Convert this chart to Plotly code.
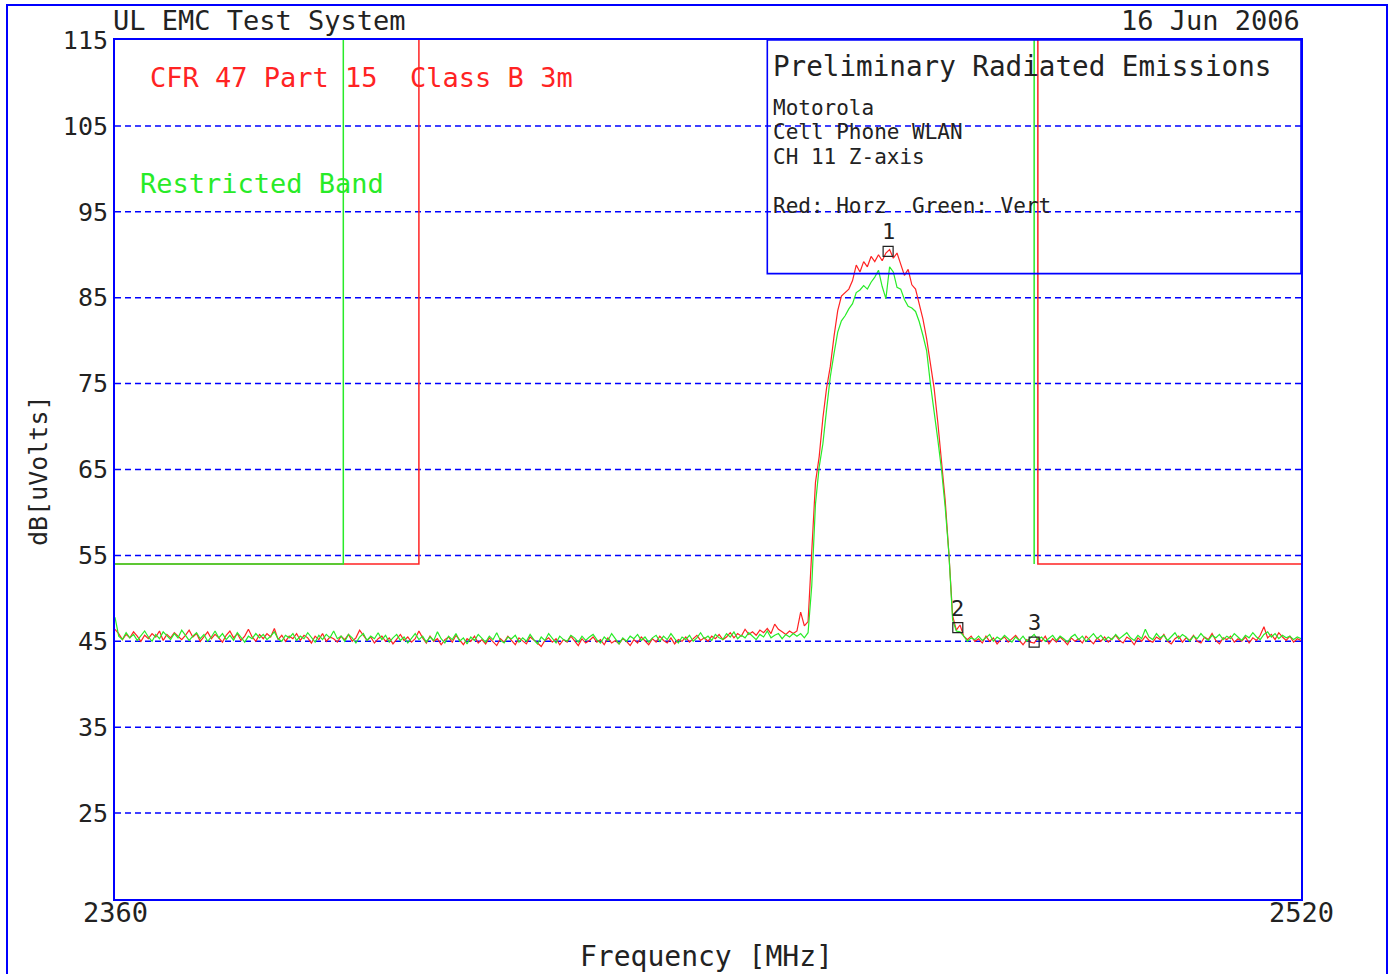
import plotly.graph_objects as go

# ---------------- data ----------------
freq_low = [2360.0, 2360.5, 2361.0, 2361.5, 2362.0, 2362.5, 2363.0, 2363.5, 2364.0, 2364.5,
            2365.0, 2365.5, 2366.0, 2366.5, 2367.0, 2367.5, 2368.0, 2368.5, 2369.0, 2369.5,
            2370.0, 2370.5, 2371.0, 2371.5, 2372.0, 2372.5, 2373.0, 2373.5, 2374.0, 2374.5,
            2375.0, 2375.5, 2376.0, 2376.5, 2377.0, 2377.5, 2378.0, 2378.5, 2379.0, 2379.5,
            2380.0, 2380.5, 2381.0, 2381.5, 2382.0, 2382.5, 2383.0, 2383.5, 2384.0, 2384.5,
            2385.0, 2385.5, 2386.0, 2386.5, 2387.0, 2387.5, 2388.0, 2388.5, 2389.0, 2389.5,
            2390.0, 2390.5, 2391.0, 2391.5, 2392.0, 2392.5, 2393.0, 2393.5, 2394.0, 2394.5,
            2395.0, 2395.5, 2396.0, 2396.5, 2397.0, 2397.5, 2398.0, 2398.5, 2399.0, 2399.5,
            2400.0, 2400.5, 2401.0, 2401.5, 2402.0, 2402.5, 2403.0, 2403.5, 2404.0, 2404.5,
            2405.0, 2405.5, 2406.0, 2406.5, 2407.0, 2407.5, 2408.0, 2408.5, 2409.0, 2409.5,
            2410.0, 2410.5, 2411.0, 2411.5, 2412.0, 2412.5, 2413.0, 2413.5, 2414.0, 2414.5,
            2415.0, 2415.5, 2416.0, 2416.5, 2417.0, 2417.5, 2418.0, 2418.5, 2419.0, 2419.5,
            2420.0, 2420.5, 2421.0, 2421.5, 2422.0, 2422.5, 2423.0, 2423.5, 2424.0, 2424.5,
            2425.0, 2425.5, 2426.0, 2426.5, 2427.0, 2427.5, 2428.0, 2428.5, 2429.0, 2429.5,
            2430.0, 2430.5, 2431.0, 2431.5, 2432.0, 2432.5, 2433.0, 2433.5, 2434.0, 2434.5,
            2435.0, 2435.5, 2436.0, 2436.5, 2437.0, 2437.5, 2438.0, 2438.5, 2439.0, 2439.5,
            2440.0, 2440.5, 2441.0, 2441.5, 2442.0, 2442.5, 2443.0, 2443.5, 2444.0, 2444.5,
            2445.0, 2445.5, 2446.0, 2446.5, 2447.0, 2447.5, 2448.0, 2448.5, 2449.0, 2449.5,
            2450.0, 2450.5, 2451.0, 2451.5]
red_low = [46.4, 45.9, 45.2, 45.8, 45.4, 46.1, 45.6, 45.0, 45.7, 45.3,
           45.9, 45.5, 46.2, 45.1, 45.8, 45.4, 46.0, 45.6, 45.2, 45.7,
           46.3, 45.5, 45.9, 45.0, 45.6, 46.1, 45.3, 45.8, 45.4, 44.9,
           45.7, 46.2, 45.4, 45.9, 45.1, 45.6, 46.4, 45.5, 45.0, 45.8,
           45.3, 45.9, 45.5, 46.5, 45.2, 45.7, 45.0, 45.6, 45.3, 45.9,
           45.1, 45.7, 45.4, 44.8, 45.6, 45.2, 45.9, 45.0, 45.5, 45.3,
           44.9, 45.6, 45.2, 45.8, 45.0, 45.4, 46.3, 45.7, 45.1, 45.5,
           44.8, 45.3, 45.6, 45.0, 45.4, 44.7, 45.2, 45.8, 45.1, 45.5,
           44.9, 45.3, 46.2, 45.4, 44.8, 45.6, 45.0, 45.3, 44.6, 45.2,
           45.5, 44.9, 45.7, 45.1, 44.6, 45.3, 45.0, 45.6, 44.8, 45.2,
           44.7, 45.4, 45.0, 44.5, 45.3, 44.9, 45.6, 45.1, 44.6, 45.4,
           45.0, 44.7, 45.5, 45.2, 44.8, 44.4, 45.1, 45.4, 44.9, 45.3,
           44.6, 45.2, 44.9, 45.6, 45.0, 44.5, 45.3, 44.8, 45.1, 45.5,
           44.9, 45.2, 44.6, 45.4, 44.8, 45.1, 44.7, 45.3, 45.0, 44.5,
           45.2, 44.8, 45.5, 45.0, 44.6, 45.3, 44.9, 45.6, 45.1, 44.8,
           45.4, 44.7, 45.2, 45.0, 45.5, 44.9, 45.3, 45.7, 45.1, 45.4,
           45.0, 45.6, 45.3, 45.8, 45.2, 45.5, 46.0, 45.4, 45.9, 45.6,
           46.4, 45.8, 46.1, 45.7, 46.3, 46.0, 46.5, 45.9, 47.0, 46.4,
           46.1, 45.8, 46.2, 45.9]
green_low = [47.8, 45.6, 45.2, 46.0, 45.4, 45.8, 45.1, 45.7, 46.2, 45.5,
             45.0, 45.8, 45.3, 46.1, 45.6, 45.2, 45.9, 45.4, 46.3, 45.7,
             45.1, 45.6, 46.0, 45.3, 45.8, 45.0, 45.5, 46.2, 45.4, 45.9,
             45.2, 45.7, 45.1, 46.0, 45.5, 44.9, 45.6, 45.3, 45.9, 45.4,
             45.8, 45.2, 45.6, 46.1, 45.3, 45.0, 45.7, 45.4, 45.9, 45.1,
             45.6, 45.3, 46.0, 45.5, 44.9, 45.7, 45.2, 45.8, 45.4, 46.2,
             45.3, 45.6, 45.0, 45.8, 45.4, 44.8, 45.5, 45.9, 45.1, 45.6,
             45.3, 46.0, 45.2, 45.7, 44.9, 45.4, 45.8, 45.1, 45.5, 44.8,
             45.4, 45.9, 45.2, 45.6, 44.9, 45.5, 45.1, 46.1, 45.3, 44.8,
             45.6, 45.2, 45.9, 45.0, 45.4, 44.7, 45.5, 45.1, 45.8, 45.3,
             44.9, 45.6, 45.2, 46.0, 45.1, 44.8, 45.5, 45.3, 45.7, 44.9,
             45.4, 45.0, 45.8, 45.2, 44.7, 45.5, 45.1, 45.9, 45.3, 44.8,
             45.6, 45.2, 45.0, 45.7, 45.4, 44.9, 45.6, 45.1, 45.5, 45.8,
             45.2, 44.8, 45.5, 45.1, 45.9, 45.3, 44.7, 45.4, 45.0, 45.6,
             45.3, 45.8, 45.1, 45.5, 44.9, 45.4, 45.7, 45.0, 45.6, 45.2,
             45.9, 45.3, 44.8, 45.5, 45.2, 45.7, 45.0, 45.4, 46.0, 45.3,
             45.6, 45.1, 45.8, 45.4, 45.2, 45.9, 45.5, 46.1, 45.3, 45.7,
             45.4, 46.0, 45.6, 45.2, 45.8, 45.5, 46.2, 45.4, 45.7, 45.9,
             45.3, 45.8, 45.5, 45.9]

freq_peak = [2452.0, 2452.5, 2453.0, 2453.5, 2454.0, 2454.5, 2455.0, 2455.5,
             2456.0, 2456.5, 2457.0, 2457.5, 2458.0, 2458.5, 2459.0, 2459.5,
             2460.0, 2460.5, 2461.0, 2461.5, 2462.0, 2462.5, 2463.0, 2463.5,
             2464.0, 2464.5, 2465.0, 2465.5, 2466.0, 2466.5, 2467.0, 2467.5,
             2468.0, 2468.5, 2469.0, 2469.5, 2470.0, 2470.5, 2471.0, 2471.5,
             2472.0, 2472.5, 2473.0, 2473.5, 2474.0, 2474.5, 2475.0, 2475.5,
             2476.0]
red_peak = [46.2, 48.4, 46.8, 47.3, 55.5, 63.5, 66.5, 71.0,
            74.5, 77.0, 80.5, 83.5, 85.2, 85.6, 86.0, 87.0,
            88.8, 88.0, 89.2, 88.6, 89.8, 89.2, 90.0, 89.3,
            90.2, 90.6, 89.6, 90.2, 88.9, 87.6, 88.3, 86.5,
            86.0, 84.2, 82.5, 80.2, 77.3, 74.5, 70.5, 65.5,
            61.4, 55.2, 48.0, 46.3, 46.9, 45.6, 45.2, 45.6,
            45.0]
green_peak = [45.6, 45.9, 45.4, 46.0, 51.5, 61.0, 65.3, 68.0,
              72.0, 75.8, 78.5, 81.0, 82.3, 82.9, 83.7, 84.3,
              85.6, 85.9, 86.4, 86.0, 86.8, 87.4, 88.2, 86.3,
              84.9, 88.6, 88.0, 86.2, 86.0, 84.8, 84.0, 83.8,
              83.4, 82.2, 80.6, 78.8, 75.0, 72.0, 68.5, 65.0,
              60.6, 55.2, 47.5, 46.2, 46.1, 45.6, 45.0, 45.4,
              45.2]

freq_high = [2476.5, 2477.0, 2477.5, 2478.0, 2478.5, 2479.0, 2479.5,
             2480.0, 2480.5, 2481.0, 2481.5, 2482.0, 2482.5, 2483.0, 2483.5, 2484.0, 2484.5,
             2485.0, 2485.5, 2486.0, 2486.5, 2487.0, 2487.5, 2488.0, 2488.5, 2489.0, 2489.5,
             2490.0, 2490.5, 2491.0, 2491.5, 2492.0, 2492.5, 2493.0, 2493.5, 2494.0, 2494.5,
             2495.0, 2495.5, 2496.0, 2496.5, 2497.0, 2497.5, 2498.0, 2498.5, 2499.0, 2499.5,
             2500.0, 2500.5, 2501.0, 2501.5, 2502.0, 2502.5, 2503.0, 2503.5, 2504.0, 2504.5,
             2505.0, 2505.5, 2506.0, 2506.5, 2507.0, 2507.5, 2508.0, 2508.5, 2509.0, 2509.5,
             2510.0, 2510.5, 2511.0, 2511.5, 2512.0, 2512.5, 2513.0, 2513.5, 2514.0, 2514.5,
             2515.0, 2515.5, 2516.0, 2516.5, 2517.0, 2517.5, 2518.0, 2518.5, 2519.0, 2519.5,
             2520.0]
red_high = [45.3, 44.8, 45.6, 45.0, 45.4, 44.7, 45.2,
            45.5, 44.9, 45.3, 45.7, 45.1, 44.6, 45.2, 44.9, 44.8, 45.4,
            45.0, 45.6, 44.7, 45.3, 44.9, 45.5, 45.1, 44.6, 45.4, 45.0,
            45.3, 44.8, 45.6, 45.2, 44.7, 45.4, 45.0, 45.5, 44.9, 45.3,
            45.7, 45.1, 44.8, 45.5, 45.2, 44.6, 45.4, 45.0, 45.6, 45.1,
            44.9, 45.5, 45.2, 45.8, 45.0, 44.7, 45.3, 45.6, 44.9, 45.4,
            45.1, 45.7, 45.0, 44.8, 45.5, 45.2, 45.9, 45.1, 44.7, 45.4,
            45.2, 45.6, 44.9, 45.3, 45.0, 45.5, 44.8, 45.4, 45.1, 45.7,
            46.7, 45.4, 45.8, 45.2, 46.0, 45.5, 45.1, 45.6, 44.9, 45.3,
            45.1]
green_high = [45.6, 45.1, 45.4, 45.8, 45.0, 45.5, 45.2,
              45.7, 45.3, 44.9, 45.5, 45.1, 45.6, 45.0, 45.4, 45.8, 45.2,
              45.5, 45.0, 45.3, 45.7, 45.1, 45.6, 45.3, 44.9, 45.5, 45.8,
              45.2, 45.6, 45.0, 45.4, 45.9, 45.3, 45.7, 45.1, 45.5, 45.2,
              45.8, 45.3, 45.6, 46.0, 45.4, 45.1, 45.7, 45.3, 46.4, 45.5,
              45.2, 45.9, 45.4, 45.7, 45.1, 45.6, 46.0, 45.3, 45.8, 45.5,
              45.0, 45.6, 45.3, 45.9, 45.4, 45.1, 45.7, 45.4, 45.8, 45.2,
              45.6, 45.3, 45.9, 45.5, 45.1, 45.7, 45.4, 46.0, 45.5, 45.2,
              45.8, 46.1, 45.5, 45.9, 45.3, 45.7, 45.4, 45.6, 45.2, 45.5,
              45.3]

# limit lines (CFR 47 Part 15 Class B 3m) and restricted band edges
limit_red_left_x = [2360, 2401.0, 2401.0]
limit_red_left_y = [54, 54, 115]
limit_red_right_x = [2484.5, 2484.5, 2520]
limit_red_right_y = [115, 54, 54]
limit_green_left_x = [2360, 2390.8, 2390.8]
limit_green_left_y = [54, 54, 115]
limit_green_right_x = [2484.0, 2484.0]
limit_green_right_y = [115, 54]

# markers
marker_freq = [2464.3, 2473.7, 2484.0]
marker_level = [90.4, 46.6, 44.9]
marker_labels = ["1", "2", "3"]

y_ticks = [25, 35, 45, 55, 65, 75, 85, 95, 105, 115]
x_ticks = [2360, 2520]

# info box extents
box_x = [2448, 2520]
box_y = [87.8, 115]

# ---------------- style ----------------
RED = "#ff2323"
GREEN = "#28eb28"
BLUE = "#0000ff"
INK = "#222222"
FONT = "DejaVu Sans Mono"

W, H = 1392, 974
L, R, T, B = 115, 91, 40, 75
PW, PH = W - L - R, H - T - B


def px(xp):
    return (xp - L) / PW


def py(yp):
    return (H - B - yp) / PH


fig = go.Figure()

# dashed horizontal grid
for v in y_ticks[:-1]:
    fig.add_shape(type="line", xref="paper", yref="y", x0=0, x1=1, y0=v, y1=v,
                  layer="below", line=dict(color=BLUE, width=1.5, dash="6px,4px"))

# limits
fig.add_trace(go.Scatter(x=limit_red_left_x, y=limit_red_left_y, mode="lines",
                         line=dict(color=RED, width=1.5), hoverinfo="skip"))
fig.add_trace(go.Scatter(x=limit_green_left_x, y=limit_green_left_y, mode="lines",
                         line=dict(color=GREEN, width=1.5), hoverinfo="skip"))
fig.add_trace(go.Scatter(x=limit_green_right_x, y=limit_green_right_y, mode="lines",
                         line=dict(color=GREEN, width=1.5), hoverinfo="skip"))
fig.add_trace(go.Scatter(x=limit_red_right_x, y=limit_red_right_y, mode="lines",
                         line=dict(color=RED, width=1.5), hoverinfo="skip"))

# traces
fig.add_trace(go.Scatter(x=freq_low + freq_peak + freq_high,
                         y=red_low + red_peak + red_high, mode="lines",
                         name="Horz", line=dict(color=RED, width=1.2)))
fig.add_trace(go.Scatter(x=freq_low + freq_peak + freq_high,
                         y=green_low + green_peak + green_high, mode="lines",
                         name="Vert", line=dict(color=GREEN, width=1.2)))

# markers
fig.add_trace(go.Scatter(x=marker_freq, y=marker_level, mode="markers",
                         marker=dict(symbol="square-open", size=10,
                                     color=INK, line=dict(width=1.2))))

# info box
fig.add_shape(type="rect", xref="x", yref="y", x0=box_x[0], x1=box_x[1],
              y0=box_y[0], y1=box_y[1], line=dict(color=BLUE, width=1.6))

# outer frame
fig.add_shape(type="rect", xref="paper", yref="paper",
              x0=px(7), x1=px(1387), y0=py(990), y1=py(5),
              line=dict(color=BLUE, width=2))

ann = []


def text(s, x, y, size, color=INK, xanchor="left", angle=0):
    ann.append(dict(text=s, x=px(x), y=py(y), xref="paper", yref="paper",
                    xanchor=xanchor, yanchor="middle", showarrow=False,
                    textangle=angle,
                    font=dict(family=FONT, size=size, color=color)))


text("UL EMC Test System", 111, 21, 27)
text("16 Jun 2006", 1302, 21, 27, xanchor="right")
text("CFR 47 Part 15\u00a0\u00a0Class B 3m", 148, 77, 27, color=RED)
text("Restricted Band", 138, 183, 27, color=GREEN)
text("Preliminary Radiated Emissions", 771, 66, 27.6)
text("Motorola", 771, 108, 21)
text("Cell Phone WLAN", 771, 132, 21)
text("CH 11 Z-axis", 771, 157, 21)
text("Red: Horz\u00a0\u00a0Green: Vert", 771, 206, 21)
text("Frequency [MHz]", 706, 956, 28, xanchor="center")
text("dB[uVolts]", 38, 471, 25, xanchor="center", angle=-90)
for v in x_ticks:
    text(str(v), L + (v - x_ticks[0]) / (x_ticks[-1] - x_ticks[0]) * PW, 912, 27,
         xanchor="center")

# marker labels
for f, lvl, lab in zip(marker_freq, marker_level, marker_labels):
    ann.append(dict(text=lab, x=f, y=lvl, xref="x", yref="y", xanchor="center",
                    yanchor="bottom", yshift=5, showarrow=False,
                    font=dict(family=FONT, size=22, color=INK)))

fig.update_layout(
    width=W, height=H, autosize=False,
    margin=dict(l=L, r=R, t=T, b=B, pad=0),
    paper_bgcolor="white", plot_bgcolor="white",
    showlegend=False,
    annotations=ann,
    font=dict(family=FONT, color=INK),
    xaxis=dict(range=[2360, 2520], tickvals=x_ticks, showticklabels=False,
               showgrid=False, zeroline=False, showline=True, mirror=True,
               linecolor=BLUE, linewidth=2, ticks=""),
    yaxis=dict(range=[15, 115], tickvals=y_ticks,
               ticktext=[str(v) for v in y_ticks],
               showgrid=False, zeroline=False, showline=True, mirror=True,
               linecolor=BLUE, linewidth=2, ticks="",
               tickfont=dict(family=FONT, size=25, color=INK)),
)

fig.write_html("out.html", config={"displayModeBar": False},
               post_script="document.body.style.margin='0';")
